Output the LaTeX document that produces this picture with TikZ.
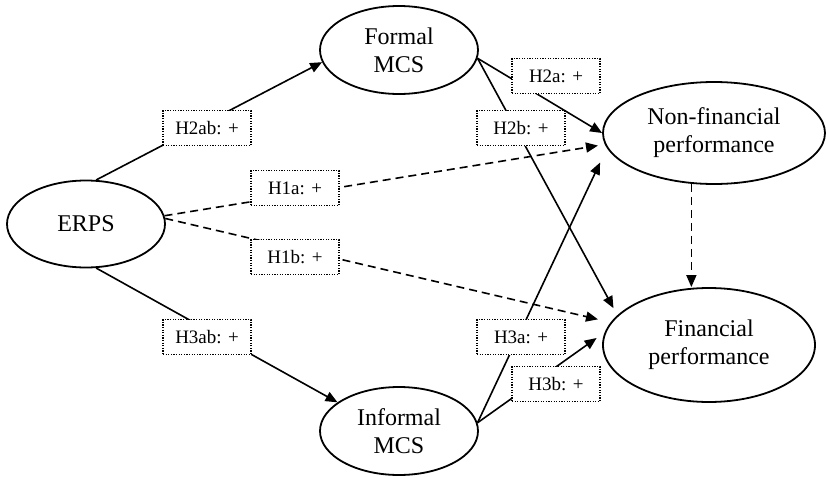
\documentclass[tikz,border=0pt]{standalone}
\usepackage{fontspec}
\setmainfont{Liberation Serif}
\usetikzlibrary{shapes.geometric,arrows.meta}
\begin{document}
\begin{tikzpicture}[x=0.5pt,y=0.5pt]
\tikzstyle{every node}+=[inner sep=0pt]
\tikzstyle{construct}=[draw=black,ellipse,line width=0.9pt,align=center,font=\fontsize{12}{14}\selectfont]
\tikzstyle{hyp}=[draw=black,fill=white,line width=0.6pt,dash pattern=on 0.6pt off 0.7pt,minimum width=44pt,minimum height=17.5pt,font=\fontsize{9.5}{11}\selectfont]
\tikzstyle{link}=[black,line width=0.8pt,-{Triangle[length=6pt,width=5pt]}]
\tikzstyle{dlink}=[link,dash pattern=on 4pt off 2.5pt]
\useasboundingbox (0,0) rectangle (826,-477);
\node [construct,minimum width=79pt,minimum height=43.5pt] (erps) at (86,-224) {ERPS};
\node [construct,minimum width=79pt,minimum height=44pt] (formal) at (399,-50) {Formal\\MCS};
\node [construct,minimum width=79pt,minimum height=44pt] (informal) at (399,-431) {Informal\\MCS};
\node [construct,minimum width=111pt,minimum height=51pt] (nonfin) at (714,-133) {Non-financial\\performance};
\node [construct,minimum width=106pt,minimum height=57pt] (fin) at (709,-345) {Financial\\performance};
\draw [link] (erps.77) -- (formal.189);
\draw [link] (erps.-77) -- (informal.155);
\draw [dlink,shorten >=3.5pt] (erps.6) -- (nonfin.186);
\draw [dlink,shorten >=6.5pt] (erps.4) -- (fin.167);
\draw [link] (formal.-6) -- (nonfin.180);
\draw [link,shorten >=4pt] (formal.-6) -- (fin.162);
\draw [link,shorten >=8pt] (informal.6) -- (nonfin.188);
\draw [link,shorten >=5pt] (informal.6) -- (fin.173);
\draw [dlink] (nonfin.246) -- (nonfin.246 |- fin.north);
\node [hyp] (h2ab) at (207,-128) {H2ab: +};
\node [hyp] (h1a) at (295,-188) {H1a: +};
\node [hyp] (h1b) at (295,-257) {H1b: +};
\node [hyp] (h3ab) at (207,-337) {H3ab: +};
\node [hyp] (h2a) at (556,-76) {H2a: +};
\node [hyp] (h2b) at (521,-128) {H2b: +};
\node [hyp] (h3a) at (521,-337) {H3a: +};
\node [hyp] (h3b) at (556,-384) {H3b: +};
\end{tikzpicture}
\end{document}
